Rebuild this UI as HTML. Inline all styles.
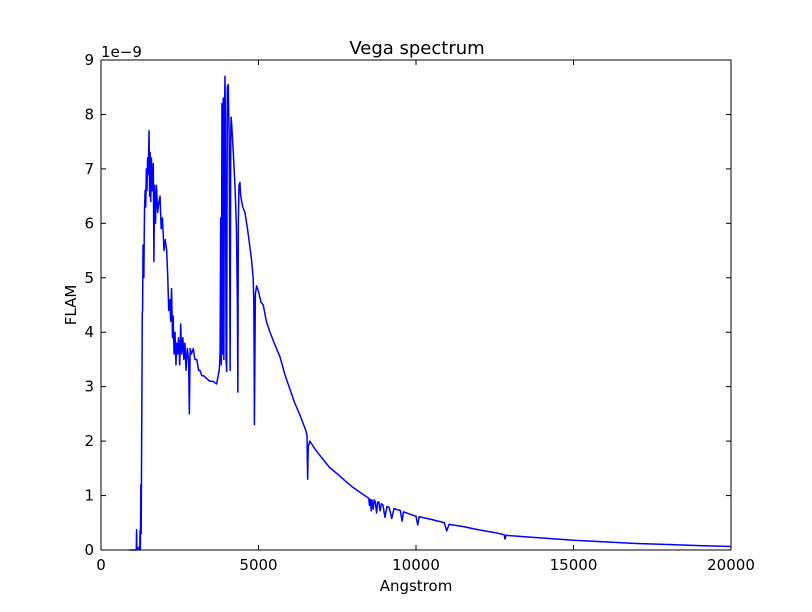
<!DOCTYPE html>
<html><head><meta charset="utf-8"><style>
body{margin:0;background:#fff;}
svg{display:block;font-family:"DejaVu Sans","Liberation Sans",sans-serif;}
</style></head><body>
<svg id="chart" width="812" height="612" xmlns="http://www.w3.org/2000/svg">
<rect x="0" y="0" width="812" height="612" fill="#fff"/>
<text x="417" y="54" font-size="18" text-anchor="middle">Vega spectrum</text>
<text x="416" y="591" font-size="15" text-anchor="middle">Angstrom</text>
<text x="0" y="0" font-size="15" text-anchor="middle" transform="translate(76,305) rotate(-90)">FLAM</text>
<text x="101" y="57" font-size="15">1e−9</text>
<g id="ticks"></g>
<path id="line" fill="none" stroke="#0000ff" stroke-width="1.5" stroke-linejoin="round"/>
<rect x="101" y="60" width="630" height="490" fill="none" stroke="#000" stroke-width="1"/>
</svg>
<script>
const xTicks = [0, 5000, 10000, 15000, 20000];
const yTicks = [0, 1, 2, 3, 4, 5, 6, 7, 8, 9];
const wavelength = [900,1050,1120,1130,1140,1200,1230,1240,1250,1265,1275,1290,1300,1310,1320,1335,1345,1360,1380,1400,1420,1440,1460,1480,1500,1525,1545,1560,1580,1600,1630,1660,1680,1700,1730,1760,1800,1840,1875,1910,1950,2000,2040,2085,2120,2150,2190,2210,2240,2270,2290,2320,2350,2380,2400,2430,2460,2500,2530,2560,2600,2630,2665,2700,2740,2780,2805,2830,2870,2930,2980,3040,3100,3140,3200,3260,3355,3450,3550,3670,3720,3755,3780,3800,3820,3840,3860,3880,3900,3920,3935,3950,3970,3990,4010,4040,4070,4100,4120,4130,4145,4160,4200,4260,4300,4330,4345,4360,4380,4410,4435,4500,4570,4650,4720,4785,4830,4850,4862,4870,4900,4940,5000,5080,5150,5250,5365,5500,5680,5850,6000,6150,6300,6400,6500,6540,6560,6580,6630,6800,7000,7250,7500,7750,8000,8250,8450,8500,8520,8550,8580,8600,8640,8670,8700,8750,8780,8820,8860,8900,8950,9015,9080,9150,9230,9300,9400,9500,9560,9600,9800,10000,10055,10100,10500,10900,10975,11050,11500,12000,12500,12800,12825,12860,13500,14000,15000,16000,17000,18000,19000,20000];
const flux = [0,0,0,0.37,0,0.05,0,0.35,0,1.2,0.3,1.97,3.0,4.35,4.4,5.6,5.6,5.0,6.2,6.6,6.3,7.0,6.6,7.2,6.9,7.7,6.5,7.3,6.4,7.2,6.6,7.1,5.3,6.7,6.0,6.7,6.2,6.4,6.5,5.9,6.1,5.5,5.7,5.5,5.0,4.4,4.6,4.2,4.8,3.9,4.3,3.6,4.0,3.4,3.8,3.6,3.9,3.4,4.15,3.6,3.9,3.5,3.8,3.3,3.7,3.5,2.5,3.7,3.6,3.7,3.5,3.5,3.3,3.3,3.2,3.2,3.15,3.1,3.1,3.05,3.2,3.3,3.6,6.1,3.4,8.2,3.6,8.3,3.5,8.0,8.7,7.9,3.5,3.28,8.5,8.55,7.5,3.3,7.7,7.95,7.85,7.7,7.3,6.6,5.9,4.5,2.9,6.0,6.7,6.75,6.5,6.3,6.2,5.9,5.6,5.3,5.0,4.6,3.6,2.3,4.7,4.85,4.75,4.55,4.5,4.2,4.0,3.8,3.55,3.2,2.95,2.7,2.5,2.35,2.2,2.1,1.3,1.9,2.0,1.85,1.7,1.52,1.4,1.27,1.15,1.05,0.97,0.95,0.82,0.93,0.72,0.92,0.75,0.92,0.9,0.68,0.88,0.88,0.72,0.85,0.83,0.6,0.8,0.78,0.58,0.76,0.74,0.73,0.53,0.7,0.66,0.62,0.46,0.61,0.56,0.5,0.35,0.47,0.43,0.37,0.32,0.28,0.2,0.27,0.24,0.22,0.18,0.15,0.12,0.1,0.08,0.065];
const X0=101, X1=731, Y0=550, Y1=60;
function xScale(v){return X0+(v-0)/(20000-0)*(X1-X0);}
function yScale(v){return Y0-(v-0)/(9-0)*(Y0-Y1);}
const NS="http://www.w3.org/2000/svg";
let d="";
for(let i=0;i<wavelength.length;i++){d+=(i?"L":"M")+xScale(wavelength[i]).toFixed(2)+","+yScale(flux[i]).toFixed(2);}
document.getElementById('line').setAttribute('d',d);
const g=document.getElementById('ticks');
xTicks.forEach(t=>{
  const x=xScale(t);
  [[Y0,Y0-5],[Y1,Y1+5]].forEach(p=>{
    const l=document.createElementNS(NS,'line');
    l.setAttribute('x1',x);l.setAttribute('x2',x);l.setAttribute('y1',p[0]);l.setAttribute('y2',p[1]);l.setAttribute('stroke','#000');
    
    
    g.appendChild(l);
  });
  const tx=document.createElementNS(NS,'text');
  tx.setAttribute('x',x);tx.setAttribute('y',570);tx.setAttribute('font-size','15');tx.setAttribute('text-anchor','middle');
  tx.textContent=t;
  
  
  g.appendChild(tx);
});
yTicks.forEach(t=>{
  const y=yScale(t);
  [[X0,X0+5],[X1,X1-5]].forEach(p=>{
    const l=document.createElementNS(NS,'line');
    l.setAttribute('x1',p[0]);l.setAttribute('x2',p[1]);l.setAttribute('y1',y);l.setAttribute('y2',y);l.setAttribute('stroke','#000');
    
    
    g.appendChild(l);
  });
  const tx=document.createElementNS(NS,'text');
  tx.setAttribute('x',94);tx.setAttribute('y',y+5);tx.setAttribute('font-size','15');tx.setAttribute('text-anchor','end');
  tx.textContent=t;
  
  
  g.appendChild(tx);
});
</script>
</body></html>
